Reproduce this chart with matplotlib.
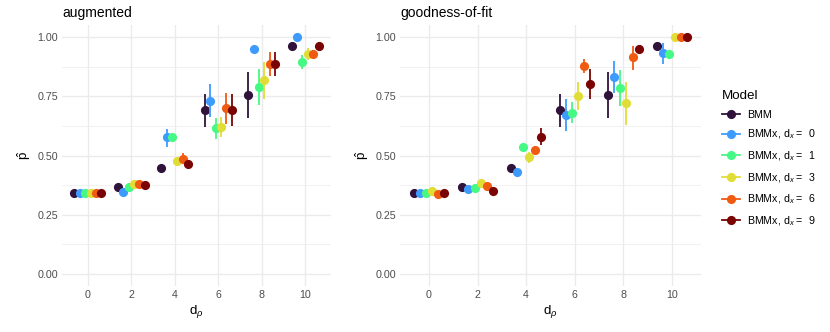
import matplotlib
matplotlib.use("Agg")
import matplotlib.pyplot as plt
from matplotlib.lines import Line2D
import numpy as np

plt.rcParams['font.family'] = ['Liberation Sans', 'DejaVu Sans']
plt.rcParams['mathtext.fontset'] = 'custom'
plt.rcParams['mathtext.rm'] = 'Liberation Sans'
plt.rcParams['mathtext.it'] = 'Liberation Sans:italic'

d_rho = [0, 2, 4, 6, 8, 10]
models = ["BMM", "BMMx, d$_x$ =  0", "BMMx, d$_x$ =  1", "BMMx, d$_x$ =  3",
          "BMMx, d$_x$ =  6", "BMMx, d$_x$ =  9"]
colors = ["#30123B", "#3E9BFE", "#46F884", "#E1DD37", "#F05B12", "#7A0403"]
panels = ["augmented", "goodness-of-fit"]

# augmented
aug_bmm = [0.343, 0.366, 0.447, 0.692, 0.757, 0.962]
aug_x0 = [0.343, 0.346, 0.577, 0.731, 0.948, 1.000]
aug_x1 = [0.340, 0.368, 0.579, 0.616, 0.789, 0.895]
aug_x3 = [0.343, 0.378, 0.477, 0.622, 0.820, 0.928]
aug_x6 = [0.343, 0.381, 0.487, 0.699, 0.886, 0.928]
aug_x9 = [0.343, 0.374, 0.463, 0.693, 0.886, 0.962]

aug_bmm_lo = [0.343, 0.366, 0.447, 0.621, 0.660, 0.962]
aug_bmm_hi = [0.343, 0.366, 0.447, 0.758, 0.854, 0.962]
aug_x0_lo = [0.343, 0.346, 0.537, 0.661, 0.948, 1.000]
aug_x0_hi = [0.343, 0.346, 0.611, 0.802, 0.948, 1.000]
aug_x1_lo = [0.340, 0.368, 0.579, 0.570, 0.713, 0.864]
aug_x1_hi = [0.340, 0.368, 0.579, 0.660, 0.864, 0.924]
aug_x3_lo = [0.343, 0.378, 0.477, 0.577, 0.738, 0.903]
aug_x3_hi = [0.343, 0.378, 0.477, 0.664, 0.896, 0.952]
aug_x6_lo = [0.343, 0.381, 0.470, 0.633, 0.833, 0.910]
aug_x6_hi = [0.343, 0.381, 0.510, 0.765, 0.938, 0.945]
aug_x9_lo = [0.343, 0.374, 0.463, 0.624, 0.833, 0.962]
aug_x9_hi = [0.343, 0.374, 0.463, 0.759, 0.938, 0.962]

# goodness-of-fit
gof_bmm = [0.343, 0.366, 0.447, 0.690, 0.757, 0.962]
gof_x0 = [0.343, 0.359, 0.429, 0.671, 0.831, 0.934]
gof_x1 = [0.340, 0.364, 0.534, 0.679, 0.786, 0.928]
gof_x3 = [0.352, 0.383, 0.494, 0.751, 0.720, 1.000]
gof_x6 = [0.338, 0.371, 0.523, 0.876, 0.917, 1.000]
gof_x9 = [0.344, 0.352, 0.579, 0.803, 0.948, 1.000]

gof_bmm_lo = [0.343, 0.366, 0.447, 0.621, 0.660, 0.962]
gof_bmm_hi = [0.343, 0.366, 0.447, 0.759, 0.854, 0.962]
gof_x0_lo = [0.343, 0.359, 0.429, 0.605, 0.762, 0.886]
gof_x0_hi = [0.343, 0.359, 0.429, 0.737, 0.899, 0.976]
gof_x1_lo = [0.340, 0.364, 0.534, 0.636, 0.710, 0.910]
gof_x1_hi = [0.340, 0.364, 0.534, 0.725, 0.861, 0.945]
gof_x3_lo = [0.352, 0.383, 0.468, 0.692, 0.628, 1.000]
gof_x3_hi = [0.352, 0.383, 0.516, 0.808, 0.808, 1.000]
gof_x6_lo = [0.338, 0.371, 0.505, 0.847, 0.861, 1.000]
gof_x6_hi = [0.338, 0.371, 0.540, 0.907, 0.962, 1.000]
gof_x9_lo = [0.344, 0.352, 0.544, 0.737, 0.948, 1.000]
gof_x9_hi = [0.344, 0.352, 0.614, 0.865, 0.948, 1.000]

data = {
    "augmented": (
        [aug_bmm, aug_x0, aug_x1, aug_x3, aug_x6, aug_x9],
        [aug_bmm_lo, aug_x0_lo, aug_x1_lo, aug_x3_lo, aug_x6_lo, aug_x9_lo],
        [aug_bmm_hi, aug_x0_hi, aug_x1_hi, aug_x3_hi, aug_x6_hi, aug_x9_hi],
    ),
    "goodness-of-fit": (
        [gof_bmm, gof_x0, gof_x1, gof_x3, gof_x6, gof_x9],
        [gof_bmm_lo, gof_x0_lo, gof_x1_lo, gof_x3_lo, gof_x6_lo, gof_x9_lo],
        [gof_bmm_hi, gof_x0_hi, gof_x1_hi, gof_x3_hi, gof_x6_hi, gof_x9_hi],
    ),
}

W, H = 830, 332
fig = plt.figure(figsize=(W / 100, H / 100), dpi=100)
boxes = [(62, 25, 331, 286), (400, 25, 701, 286)]

dodge = 1.5
n = len(models)
offsets = [(i - (n - 1) / 2) * dodge / n for i in range(n)]

tick_col = "#4D4D4D"
grid_col = "#EBEBEB"

for (x0, y0, x1, y1), name in zip(boxes, panels):
    ax = fig.add_axes([x0 / W, 1 - y1 / H, (x1 - x0) / W, (y1 - y0) / H])
    vals, los, his = data[name]
    for i in range(n):
        xs = np.array(d_rho) + offsets[i]
        ax.vlines(xs, los[i], his[i], color=colors[i], lw=1.3, zorder=3 + i * 0.1)
        ax.plot(xs, vals[i], 'o', color=colors[i], ms=6.6, mec='none', zorder=3.05 + i * 0.1)
    ax.set_xlim(-1.19, 11.19)
    ax.set_ylim(-0.05, 1.05)
    ax.set_xticks(d_rho)
    ax.set_yticks([0, 0.25, 0.5, 0.75, 1.0])
    ax.set_yticklabels(["0.00", "0.25", "0.50", "0.75", "1.00"])
    ax.set_yticks([0.125, 0.375, 0.625, 0.875], minor=True)
    ax.grid(True, which='major', color=grid_col, lw=1.0)
    ax.grid(True, which='minor', axis='y', color=grid_col, lw=0.5)
    ax.set_axisbelow(True)
    for s in ax.spines.values():
        s.set_visible(False)
    ax.tick_params(which='both', length=0, labelsize=7.7, labelcolor=tick_col, pad=3)
    ax.set_xlabel(r"d$_\rho$", fontsize=9.6, labelpad=2)
    ax.set_ylabel(r"$\hat{\mathrm{p}}$", fontsize=9.6, labelpad=3)
    ax.set_title(name, loc='left', fontsize=10, pad=6)

handles = [Line2D([0], [0], color=c, marker='o', ms=6.6, mec='none', lw=1.3) for c in colors]
fig.legend(handles, models, loc='upper left', bbox_to_anchor=(712 / W, 1 - 80 / H),
           frameon=False, fontsize=7.7, title="Model", title_fontsize=9.6,
           handlelength=1.7, handletextpad=0.7, labelspacing=0.75, alignment='left')

fig.savefig("out.png", dpi=100)
